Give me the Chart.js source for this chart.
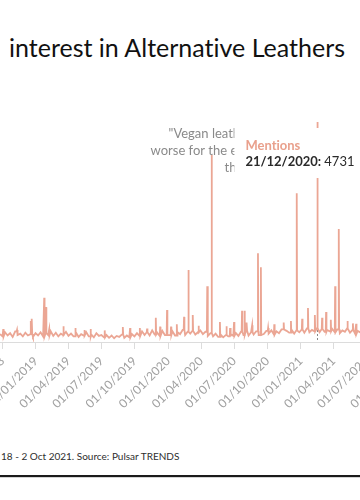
<!DOCTYPE html>
<html>
<head>
<meta charset="utf-8">
<script src="https://cdn.jsdelivr.net/npm/chart.js@4.4.0/dist/chart.umd.min.js"></script>
<style>
  html, body { margin: 0; padding: 0; background: #fff; }
  body { width: 360px; height: 500px; overflow: hidden; position: relative; font-family: 'Lato', sans-serif; font-variant-ligatures: none; }
  #title { position: absolute; left: 9px; top: 32px; font-size: 25px; line-height: 30px; color: #111; white-space: nowrap; }
  #wrap { position: absolute; left: 0; top: 0; width: 400px; height: 412px; }
  #footer { position: absolute; left: 1px; top: 450px; font-size: 10px; line-height: 12px; color: #2e2e2e; white-space: nowrap; }
  #rule1 { position: absolute; left: 0; top: 475px; width: 360px; height: 2px; background: #1a1a1a; }
  #rule2 { position: absolute; left: 0; top: 477px; width: 360px; height: 1px; background: #d4d4d4; }
</style>
</head>
<body>
<div id="title">interest in Alternative Leathers</div>
<div id="wrap"><canvas id="lineChart"></canvas></div>
<div id="footer">18 - 2 Oct 2021. Source: Pulsar TRENDS</div>
<div id="rule1"></div>
<div id="rule2"></div>
<script>
// data
const startDate = '2018-09-24';
const endDate = '2021-10-02';
const tickDates = ['2018-10-01', '2019-01-01', '2019-04-01', '2019-07-01', '2019-10-01', '2020-01-01',
    '2020-04-01', '2020-07-01', '2020-10-01', '2021-01-01', '2021-04-01', '2021-07-01', '2021-10-01'];

// one value per week from startDate
const weeklyMentions = [
    170, 120, 210, 140, 190, 110, 230, 150, 180, 120, 200, 140, 170, 110, 190,
    140, 210, 120, 190, 150, 230, 130, 200, 120, 180, 150, 220, 130,
    180, 120, 200, 110, 170, 140, 210, 120, 160, 100, 190, 130, 150,
    100, 150, 90, 140, 80, 130, 110, 160, 90, 140, 100, 170, 120,
    190, 130, 230, 150, 210, 140, 250, 160, 200, 130, 240, 150, 210,
    150, 230, 140, 210, 170, 260, 150, 220, 180, 240, 160, 210, 250,
    170, 220, 130, 190, 120, 180, 110, 160, 100, 150, 120, 170, 130,
    190, 130, 220, 150, 240, 140, 210, 160, 230, 150, 200, 170, 240,
    180, 250, 160, 230, 190, 270, 170, 240, 200, 260, 180, 250, 210,
    270, 200, 290, 210, 260, 230, 300, 210, 280, 220, 260, 230, 280,
    210, 270, 190, 250, 220, 290, 200, 260, 180, 240, 210, 250, 190,
    170, 230, 150, 210, 140, 200, 160, 220, 140, 190, 150, 200, 160, 180
];

// single-day peaks
const spikeDates = ['2018-10-03', '2018-11-10', '2018-12-18', '2018-12-21', '2019-01-24', '2019-01-29',
    '2019-02-07', '2019-03-18', '2019-04-20', '2019-05-15', '2019-06-01', '2019-07-10', '2019-08-29',
    '2019-09-18', '2019-10-15', '2019-11-04', '2019-11-28', '2019-12-10', '2019-12-29', '2020-01-09',
    '2020-01-25', '2020-02-14', '2020-02-26', '2020-03-09', '2020-03-25', '2020-04-18', '2020-04-30',
    '2020-05-23', '2020-06-10', '2020-06-20', '2020-07-01', '2020-07-23', '2020-07-30', '2020-08-05',
    '2020-08-20', '2020-09-05', '2020-09-13', '2020-10-03', '2020-10-20', '2020-11-15', '2020-12-05',
    '2020-12-21', '2021-01-05', '2021-01-21', '2021-02-09', '2021-02-16', '2021-03-01', '2021-03-12',
    '2021-03-25', '2021-04-06', '2021-04-16', '2021-05-10', '2021-05-25', '2021-06-03', '2021-06-20',
    '2021-07-20', '2021-08-25'];
const spikeValues = [280, 260, 450, 500, 950, 750,
    280, 340, 300, 260, 280, 250, 320,
    300, 300, 290, 520, 330, 690, 330,
    380, 540, 1550, 580, 350, 1200, 4020,
    430, 340, 300, 430, 670, 670, 420,
    360, 1910, 1610, 300, 380, 420, 450,
    3200, 500, 730, 580, 4731, 520, 645,
    480, 1200, 2430, 450, 400, 390, 380,
    600, 500];

const seriesName = 'Mentions';
const hoverDate = '2021-02-16';
const hoverLabel = '21/12/2020';
const noteDate = '2020-04-30';
const noteLines = ['"Vegan leather is even', 'worse for the environment', 'than real leather"'];

const lineColor = '#eba694';

function dayOf(s) {
    const [y, m, d] = s.split('-').map(Number);
    const [y0, m0, d0] = startDate.split('-').map(Number);
    return Math.round((Date.UTC(y, m - 1, d) - Date.UTC(y0, m0 - 1, d0)) / 86400000);
}

function fmtDay(v) {
    const [y0, m0, d0] = startDate.split('-').map(Number);
    const dt = new Date(Date.UTC(y0, m0 - 1, d0) + v * 86400000);
    const p = n => String(n).padStart(2, '0');
    return p(dt.getUTCDate()) + '/' + p(dt.getUTCMonth() + 1) + '/' + dt.getUTCFullYear();
}

// build points: weekly base plus each peak with its neighbouring days at the week's level
const spikeDays = spikeDates.map(dayOf);
const points = weeklyMentions
    .map((v, i) => ({ x: i * 7, y: v }))
    .filter(p => !spikeDays.some(d => Math.abs(d - p.x) <= 1));
spikeDays.forEach((day, i) => {
    const base = weeklyMentions[Math.floor(day / 7)];
    points.push({ x: day - 1, y: base }, { x: day, y: spikeValues[i] }, { x: day + 1, y: base });
});
points.sort((a, b) => a.x - b.x);

const overlay = {
    id: 'overlay',
    beforeDatasetsDraw(chart) {
        const { ctx, scales, chartArea } = chart;
        const px = scales.x.getPixelForValue(dayOf(hoverDate));
        const py = scales.y.getPixelForValue(spikeValues[spikeDates.indexOf(hoverDate)]);
        ctx.save();
        ctx.strokeStyle = '#888';
        ctx.lineWidth = 1;
        ctx.setLineDash([2, 2]);
        ctx.beginPath();
        ctx.moveTo(Math.round(px) + 0.5, py);
        ctx.lineTo(Math.round(px) + 0.5, chartArea.bottom);
        ctx.stroke();
        ctx.restore();
    },
    afterDatasetsDraw(chart) {
        const { ctx, scales } = chart;
        // annotation
        const nx = scales.x.getPixelForValue(dayOf(noteDate));
        const ny = scales.y.getPixelForValue(spikeValues[spikeDates.indexOf(noteDate)]);
        ctx.save();
        ctx.font = '13px Lato';
        ctx.fillStyle = '#8a8a8a';
        ctx.textBaseline = 'alphabetic';
        ctx.fillText(noteLines[0], nx - 43, ny - 17);
        ctx.fillText(noteLines[1], nx - 61, ny);
        ctx.fillText(noteLines[2], nx + 13, ny + 16.5);
        ctx.restore();

        // tooltip
        const value = spikeValues[spikeDates.indexOf(hoverDate)];
        const px = scales.x.getPixelForValue(dayOf(hoverDate));
        const py = scales.y.getPixelForValue(value);
        const bx = px - 83, by = py + 6;
        ctx.save();
        ctx.fillStyle = '#fff';
        ctx.fillRect(bx, by, 130, 50);
        ctx.textBaseline = 'alphabetic';
        ctx.font = 'bold 13px Lato';
        ctx.fillStyle = '#e9a08c';
        ctx.fillText(seriesName, bx + 11, by + 22);
        ctx.fillStyle = '#2b2b2b';
        const head = hoverLabel + ':';
        ctx.fillText(head, bx + 11, by + 38);
        const w = ctx.measureText(head + ' ').width;
        ctx.font = '13px Lato';
        ctx.fillText(String(value), bx + 11 + w, by + 38);
        ctx.restore();
    }
};

const ctx = document.getElementById('lineChart');
new Chart(ctx, {
    type: 'line',
    data: {
        datasets: [{
            label: seriesName,
            data: points,
            borderColor: lineColor,
            borderWidth: 1.8,
            pointRadius: 0,
            tension: 0,
            fill: false
        }]
    },
    options: {
        responsive: true,
        maintainAspectRatio: false,
        animation: false,
        events: [],
        layout: { padding: { top: 109.5, left: 0, right: 0, bottom: 0 } },
        plugins: {
            legend: { display: false },
            tooltip: { enabled: false }
        },
        scales: {
            x: {
                type: 'linear',
                min: 0,
                max: dayOf(endDate),
                afterBuildTicks: s => { s.ticks = tickDates.map(d => ({ value: dayOf(d) })); },
                afterFit: s => { s.paddingLeft = 0; s.paddingRight = 0; s.height = 70; },
                grid: { drawOnChartArea: false, drawTicks: true, tickLength: 7, color: '#dcdcdc' },
                border: { color: '#dcdcdc' },
                ticks: {
                    autoSkip: false,
                    minRotation: 45,
                    maxRotation: 45,
                    padding: 5,
                    color: '#a0a0a0',
                    font: { family: 'Lato', size: 12 },
                    callback: v => fmtDay(v)
                }
            },
            y: { display: false, min: 0, max: 5000 }
        }
    },
    plugins: [overlay]
});
</script>
</body>
</html>
